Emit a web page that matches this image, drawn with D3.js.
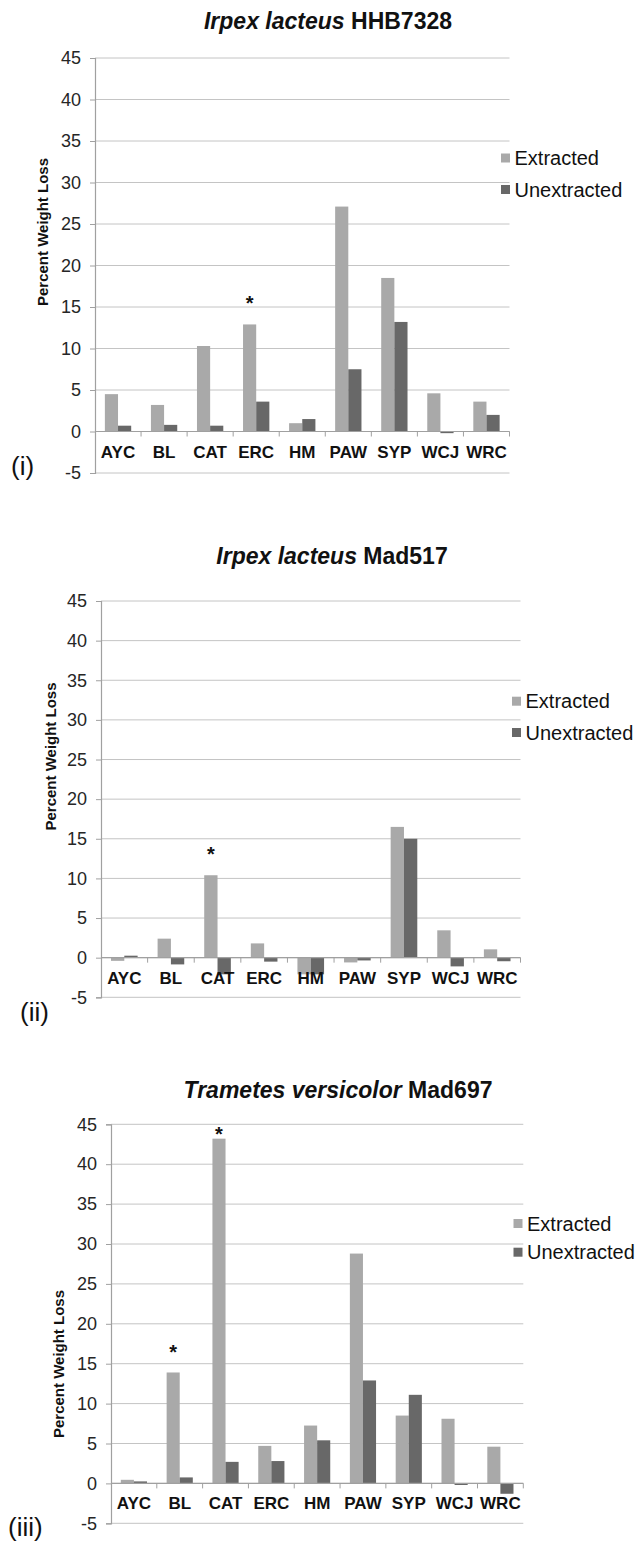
<!DOCTYPE html>
<html>
<head>
<meta charset="utf-8">
<script src="https://cdn.jsdelivr.net/npm/d3@7"></script>
<style>
  html, body { margin: 0; padding: 0; background: #fff; }
  svg { display: block; }
  text { font-family: "Liberation Sans", Arial, Helvetica, sans-serif; }
</style>
</head>
<body>
<svg id="fig" width="639" height="1555"></svg>
<script>
// Wood substrates (x categories)
const categories = ["AYC", "BL", "CAT", "ERC", "HM", "PAW", "SYP", "WCJ", "WRC"];
const seriesNames = ["Extracted", "Unextracted"];
const yTicks = [-5, 0, 5, 10, 15, 20, 25, 30, 35, 40, 45];

// Percent weight loss, panel (i): Irpex lacteus HHB7328
const hhb7328Extracted   = [4.5, 3.2, 10.3, 12.9, 1.0, 27.1, 18.5, 4.6, 3.6];
const hhb7328Unextracted = [0.7, 0.8, 0.7, 3.6, 1.5, 7.5, 13.2, -0.2, 2.0];

// Panel (ii): Irpex lacteus Mad517
const mad517Extracted   = [-0.4, 2.4, 10.4, 1.8, -2.1, -0.6, 16.5, 3.45, 1.05];
const mad517Unextracted = [0.25, -0.85, -2.1, -0.5, -2.1, -0.35, 15.0, -1.1, -0.45];

// Panel (iii): Trametes versicolor Mad697
const mad697Extracted   = [0.45, 13.9, 43.2, 4.7, 7.25, 28.8, 8.5, 8.1, 4.6];
const mad697Unextracted = [0.25, 0.75, 2.7, 2.8, 5.4, 12.9, 11.1, -0.2, -1.3];

// Significance markers: category and the height (in %) where the star sits
const hhb7328Stars = [{ cat: "ERC", at: 15.9 }];
const mad517Stars  = [{ cat: "CAT", at: 13.45 }];
const mad697Stars  = [{ cat: "BL", at: 16.8 }, { cat: "CAT", at: 44.1 }];

const colors = { Extracted: "#a9a9a9", Unextracted: "#686868" };

const panels = [
  { species: "Irpex lacteus", strain: "HHB7328", tag: "(i)",
    ext: hhb7328Extracted, unext: hhb7328Unextracted, stars: hhb7328Stars,
    left: 95, right: 509.5, top: 58, bottom: 473,
    titleX: 328, titleY: 29, legX: 501, legY: [153.5, 185], yLab: [43, 232], tagPos: [11, 474.5] },
  { species: "Irpex lacteus", strain: "Mad517", tag: "(ii)",
    ext: mad517Extracted, unext: mad517Unextracted, stars: mad517Stars,
    left: 101, right: 520.5, top: 601, bottom: 997.3,
    titleX: 332, titleY: 564.3, legX: 512, legY: [696.7, 728], yLab: [51, 756.5], tagPos: [20, 1021] },
  { species: "Trametes versicolor", strain: "Mad697", tag: "(iii)",
    ext: mad697Extracted, unext: mad697Unextracted, stars: mad697Stars,
    left: 111, right: 523.3, top: 1124.3, bottom: 1523.3,
    titleX: 338, titleY: 1098.3, legX: 513.5, legY: [1219, 1247.7], yLab: [59, 1364], tagPos: [8, 1536] }
];

const svg = d3.select("#fig");

panels.forEach(p => {
  const g = svg.append("g");

  const x = d3.scaleBand().domain(categories).range([p.left, p.right]).padding(0);
  const xs = d3.scaleBand().domain(seriesNames).range([0, x.bandwidth()])
    .paddingInner(0).paddingOuter(0.75);
  const y = d3.scaleLinear().domain([-5, 45]).range([p.bottom, p.top]);

  // horizontal gridlines
  g.append("g").selectAll("line").data(yTicks).join("line")
    .attr("x1", p.left).attr("x2", p.right)
    .attr("y1", d => y(d)).attr("y2", d => y(d))
    .attr("stroke", "#c4c4c4").attr("stroke-width", 1);

  // bars
  const rows = categories.map((c, i) => ({ cat: c, Extracted: p.ext[i], Unextracted: p.unext[i] }));
  const grp = g.append("g").selectAll("g").data(rows).join("g")
    .attr("transform", d => `translate(${x(d.cat)},0)`);
  grp.selectAll("rect").data(d => seriesNames.map(s => ({ s, v: d[s] }))).join("rect")
    .attr("x", d => xs(d.s))
    .attr("width", xs.bandwidth())
    .attr("y", d => y(Math.max(0, d.v)))
    .attr("height", d => Math.abs(y(d.v) - y(0)))
    .attr("fill", d => colors[d.s]);

  // category axis along zero
  const y0 = y(0);
  g.append("line").attr("x1", p.left).attr("x2", p.right)
    .attr("y1", y0).attr("y2", y0).attr("stroke", "#a0a0a0").attr("stroke-width", 1.2);
  const bounds = categories.map(c => x(c)).concat([p.right]).slice(1);
  g.append("g").selectAll("line").data(bounds).join("line")
    .attr("x1", d => d).attr("x2", d => d)
    .attr("y1", y0).attr("y2", y0 + 5)
    .attr("stroke", "#a0a0a0").attr("stroke-width", 1);

  // value axis (plain hyphen for negatives)
  const yAxis = d3.axisLeft(y).tickValues(yTicks).tickSize(5).tickPadding(9).tickFormat(d => String(d));
  const ya = g.append("g").attr("transform", `translate(${p.left},0)`).call(yAxis);
  ya.select(".domain").attr("stroke", "#a0a0a0").attr("stroke-width", 1.2);
  ya.selectAll(".tick line").attr("stroke", "#a0a0a0");
  ya.selectAll(".tick text").attr("font-size", 18).attr("fill", "#262626")
    .attr("font-family", "'Liberation Sans', Arial, sans-serif");

  // category labels
  g.append("g").selectAll("text").data(categories).join("text")
    .attr("x", d => x(d) + x.bandwidth() / 2)
    .attr("y", y0 + 26)
    .attr("text-anchor", "middle")
    .attr("font-size", 17).attr("font-weight", "bold").attr("fill", "#111")
    .text(d => d);

  // significance stars over the extracted bars
  g.append("g").selectAll("text").data(p.stars).join("text")
    .attr("x", d => x(d.cat) + xs("Extracted") + xs.bandwidth() / 2)
    .attr("y", d => y(d.at) + 10)
    .attr("text-anchor", "middle")
    .attr("font-size", 20).attr("font-weight", "bold").attr("fill", "#111")
    .text("*");

  // title
  const t = g.append("text").attr("x", p.titleX).attr("y", p.titleY)
    .attr("text-anchor", "middle").attr("font-size", 23).attr("font-weight", "bold").attr("fill", "#111");
  t.append("tspan").attr("font-style", "italic").text(p.species);
  t.append("tspan").text(" " + p.strain);

  // y-axis title
  g.append("text")
    .attr("transform", `translate(${p.yLab[0]},${p.yLab[1]}) rotate(-90)`)
    .attr("text-anchor", "middle").attr("dy", "0.35em")
    .attr("font-size", 15).attr("font-weight", "bold").attr("fill", "#111")
    .text("Percent Weight Loss");

  // legend
  const leg = g.append("g").selectAll("g").data(seriesNames).join("g")
    .attr("transform", (d, i) => `translate(${p.legX},${p.legY[i]})`);
  leg.append("rect").attr("width", 9).attr("height", 9).attr("fill", d => colors[d]);
  leg.append("text").attr("x", 13.5).attr("y", 11.5)
    .attr("font-size", 20).attr("fill", "#111").text(d => d);

  // panel tag
  g.append("text").attr("x", p.tagPos[0]).attr("y", p.tagPos[1])
    .attr("font-size", 26).attr("fill", "#111").text(p.tag);
});
</script>
</body>
</html>
